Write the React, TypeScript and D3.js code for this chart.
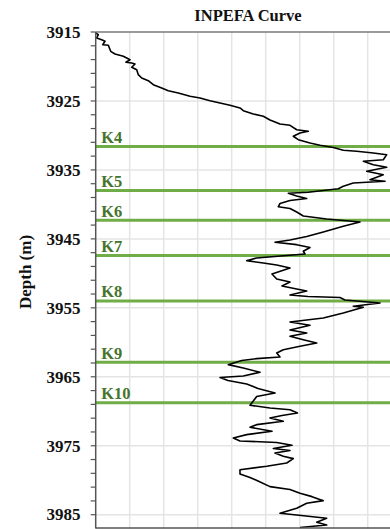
import React from "react";
import * as d3 from "d3";

// INPEFA curve samples (relative units, depth in m)
const inpefaValues: number[] = [
  0.0, 0.076, 0.029, 0.176, 0.274, 0.206, 0.371, 0.441, 0.568, 0.812,
  0.912, 1.009, 0.891, 1.059, 1.156, 1.059, 1.206, 1.253, 1.353, 1.547,
  1.694, 1.941, 2.135, 2.429, 2.774, 3.068, 3.362, 3.656, 3.95, 4.244,
  4.341, 4.635, 4.929, 5.126, 5.421, 5.715, 5.912, 6.253, 6.009, 5.812,
  5.959, 6.303, 6.597, 6.988, 7.282, 7.676, 8.165, 8.559, 8.459, 7.871,
  8.165, 8.559, 7.971, 8.459, 8.068, 8.509, 7.576, 7.282, 7.135, 6.253,
  5.665, 5.912, 6.206, 5.715, 5.421, 5.371, 5.715, 5.912, 6.106, 6.794,
  7.774, 7.282, 6.694, 6.206, 5.715, 5.274, 5.912, 6.303, 6.106, 6.156,
  4.735, 4.441, 4.929, 5.324, 5.715, 5.185, 5.324, 5.715, 5.479, 5.912,
  6.206, 5.715, 6.244, 7.185, 7.332, 8.362, 7.576, 7.871, 7.282, 6.694,
  5.715, 6.303, 5.715, 6.206, 5.715, 6.106, 6.5, 6.009, 5.518, 5.324,
  5.421, 4.735, 4.294, 3.9, 4.341, 4.832, 4.341, 3.656, 3.891, 4.441,
  4.774, 5.274, 4.735, 4.635, 4.538, 5.126, 5.715, 5.935, 5.479, 5.126,
  5.518, 4.735, 4.538, 5.185, 4.441, 4.047, 4.244, 5.324, 5.774, 5.224,
  5.715, 5.274, 5.518, 5.812, 5.618, 5.029, 4.244, 4.244, 4.538, 4.774,
  5.126, 5.715, 6.009, 6.362, 6.694, 6.206, 5.912, 5.421, 5.912, 6.794,
  6.5, 6.794, 6.009,
];

const depthValues: number[] = [
  3915.15, 3915.39, 3915.87, 3916.12, 3916.35, 3916.84, 3916.93, 3917.8, 3918.19, 3918.52,
  3918.77, 3919.02, 3919.39, 3919.5, 3919.64, 3920.12, 3920.47, 3921.19, 3921.67, 3922.06,
  3922.64, 3923.12, 3923.51, 3923.85, 3924.32, 3924.57, 3924.96, 3925.3, 3925.63, 3926.02,
  3926.41, 3926.89, 3927.22, 3927.76, 3928.34, 3928.53, 3929.17, 3929.4, 3929.65, 3930.12,
  3930.62, 3931.1, 3931.43, 3931.75, 3932.15, 3932.3, 3932.55, 3932.79, 3933.52, 3933.75,
  3934.24, 3934.62, 3935.2, 3935.69, 3936.42, 3936.65, 3936.9, 3937.37, 3937.72, 3938.24,
  3938.39, 3938.78, 3939.14, 3939.43, 3939.87, 3940.33, 3940.59, 3941.1, 3941.68, 3942.12,
  3942.55, 3943.17, 3944.0, 3944.65, 3945.16, 3945.49, 3945.84, 3946.25, 3946.8, 3947.19,
  3947.77, 3948.16, 3948.5, 3948.79, 3949.22, 3950.09, 3950.82, 3951.25, 3951.83, 3952.27,
  3952.56, 3953.14, 3953.35, 3953.5, 3953.86, 3954.3, 3954.77, 3954.92, 3955.75, 3956.47,
  3957.05, 3957.53, 3958.21, 3958.65, 3959.13, 3959.62, 3960.1, 3960.58, 3961.07, 3961.55,
  3962.13, 3962.37, 3962.63, 3963.24, 3963.72, 3964.34, 3964.88, 3965.1, 3965.53, 3966.04,
  3966.69, 3967.35, 3967.85, 3968.51, 3969.13, 3969.52, 3969.77, 3970.25, 3970.61, 3970.97,
  3971.45, 3971.94, 3972.32, 3972.9, 3973.39, 3973.87, 3974.31, 3974.52, 3974.93, 3975.39,
  3975.68, 3976.05, 3976.52, 3976.87, 3977.5, 3977.97, 3978.47, 3979.09, 3979.6, 3980.11,
  3980.93, 3981.34, 3981.89, 3982.38, 3982.96, 3983.34, 3984.06, 3984.79, 3985.04, 3985.51,
  3986.09, 3986.49, 3986.85,
];

const markerNames: string[] = ["K4", "K5", "K6", "K7", "K8", "K9", "K10"];
const markerDepths: number[] = [3931.6, 3938.0, 3942.3, 3947.4, 3954.0, 3962.9, 3968.75];

const depthTickLabels: number[] = [3915, 3925, 3935, 3945, 3955, 3965, 3975, 3985];
const depthMinorTicks: number[] = d3.range(3915, 3987, 2);
const xGridValues: number[] = [1, 2, 3, 4, 5, 6, 7, 8];

const W = 390;
const H = 529;
const left = 95.7;
const right = 401.7;
const top = 32;
const bottom = 528.5;

const FONT = "'Liberation Serif', 'Times New Roman', serif";

export default function App() {
  const x = d3.scaleLinear().domain([0, 9]).range([left, right]);
  const y = d3.scaleLinear().domain([3915, 3987]).range([top, bottom]);

  const pts = inpefaValues.map((v, i) => [v, depthValues[i]] as [number, number]);
  const line = d3
    .line<[number, number]>()
    .x((d) => x(d[0]))
    .y((d) => y(d[1]));

  return (
    <div style={{ position: "fixed", left: 0, top: 0, width: W, height: H, background: "#fff" }}>
      <svg width={W} height={H} style={{ display: "block" }}>
        <rect x={0} y={0} width={W} height={H} fill="#fff" />
        <defs>
          <clipPath id="plotClip">
            <rect x={left} y={top} width={right - left} height={bottom - top} />
          </clipPath>
        </defs>
        {/* grid */}
        {xGridValues.map((g) => (
          <line key={"xg" + g} x1={x(g)} x2={x(g)} y1={top} y2={bottom} stroke="#e4e4e4" strokeWidth={1.5} />
        ))}
        {depthTickLabels.slice(1).map((t) => (
          <line key={"yg" + t} x1={left} x2={W} y1={y(t)} y2={y(t)} stroke="#e4e4e4" strokeWidth={1.5} />
        ))}
        {/* marker lines */}
        {markerDepths.map((d, i) => (
          <line key={"m" + i} x1={left} x2={W} y1={y(d)} y2={y(d)} stroke="#70ad47" strokeWidth={3} />
        ))}
        {/* curve */}
        <g clipPath="url(#plotClip)">
          <path d={line(pts) || ""} fill="none" stroke="#000" strokeWidth={1.6} strokeLinejoin="round" />
        </g>
        {/* marker labels */}
        {markerDepths.map((d, i) => (
          <text
            key={"ml" + i}
            x={left + 5.5}
            y={y(d) - 3.5}
            fontFamily={FONT}
            fontWeight="bold"
            fontSize={16.5}
            fill="#44752a"
          >
            {markerNames[i]}
          </text>
        ))}
        {/* frame */}
        <line x1={left} x2={W} y1={top} y2={top} stroke="#7a7a7a" strokeWidth={1.5} />
        <line x1={left} x2={W} y1={bottom - 0.5} y2={bottom - 0.5} stroke="#555" strokeWidth={1.5} />
        <line x1={left} x2={left} y1={top} y2={bottom} stroke="#555" strokeWidth={1.5} />
        {/* ticks */}
        {depthMinorTicks.map((t) => (
          <line key={"t" + t} x1={left - 5} x2={left} y1={y(t)} y2={y(t)} stroke="#555" strokeWidth={1.2} />
        ))}
        {depthTickLabels.map((t) => (
          <text
            key={"tl" + t}
            x={80.5}
            y={y(t)}
            dy="0.34em"
            textAnchor="end"
            fontFamily={FONT}
            fontWeight="bold"
            fontSize={17}
            fill="#111"
          >
            {t}
          </text>
        ))}
        {/* title */}
        <text x={248} y={20.5} textAnchor="middle" fontFamily={FONT} fontWeight="bold" fontSize={16.5} fill="#111">
          INPEFA Curve
        </text>
        {/* y label */}
        <text
          transform={`translate(25, 272) rotate(-90)`}
          textAnchor="middle"
          dy="0.34em"
          fontFamily={FONT}
          fontWeight="bold"
          fontSize={17}
          fill="#111"
        >
          Depth (m)
        </text>
      </svg>
    </div>
  );
}
